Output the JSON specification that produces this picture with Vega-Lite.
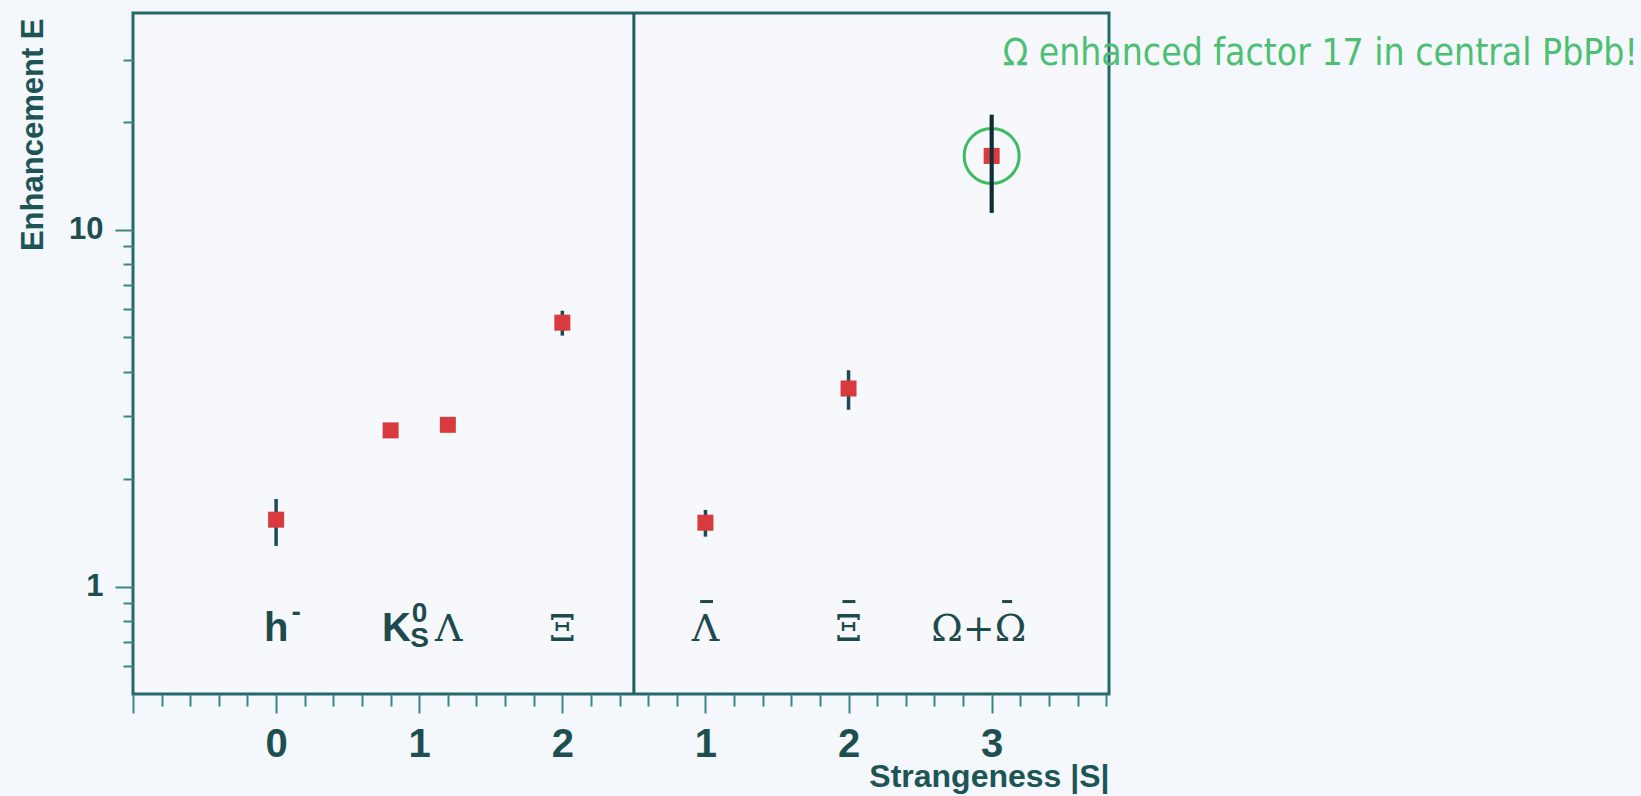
{
  "$schema": "https://vega.github.io/schema/vega-lite/v6.json",
  "width": 976,
  "height": 681,
  "autosize": {"type": "none"},
  "padding": {"left": 133, "top": 13, "right": 532, "bottom": 102},
  "background": "#f4f7fb",
  "config": {
    "view": {"stroke": "#24696a", "strokeWidth": 3, "fill": "#f6f8fc"},
    "axis": {"grid": false, "domain": false, "tickColor": "#3a8684", "tickWidth": 2, "labelColor": "#1d4f50", "titleColor": "#1d5556", "labelFont": "Liberation Sans", "titleFont": "Liberation Sans", "labelFontWeight": "bold", "titleFontWeight": "bold"}
  },
  "resolve": {"axis": {"x": "independent", "y": "independent"}},
  "datasets": {
    "points": [
      {"p": "h-", "u": 0, "e": 1.54, "lo": 1.30, "hi": 1.76},
      {"p": "K0S", "u": 0.8, "e": 2.74},
      {"p": "Lambda", "u": 1.2, "e": 2.84},
      {"p": "Xi", "u": 2, "e": 5.49, "lo": 5.05, "hi": 5.93},
      {"p": "AntiLambda", "u": 3, "e": 1.51, "lo": 1.38, "hi": 1.64},
      {"p": "AntiXi", "u": 4, "e": 3.59, "lo": 3.13, "hi": 4.04},
      {"p": "Omega", "u": 5, "e": 16.1, "lo": 11.16, "hi": 21.0}
    ],
    "boldLabels": [
      {"t": "h", "u": 0, "e": 0.706},
      {"t": "K", "u": 0.841, "e": 0.706}
    ],
    "smallLabels": [
      {"t": "-", "u": 0.14, "e": 0.80},
      {"t": "0", "u": 1.003, "e": 0.798},
      {"t": "S", "u": 1.003, "e": 0.679}
    ],
    "greekLabels": [
      {"t": "\u039b", "u": 1.206, "e": 0.706},
      {"t": "\u039e", "u": 2.0, "e": 0.706},
      {"t": "\u039b", "u": 3.0, "e": 0.706},
      {"t": "\u039e", "u": 4.0, "e": 0.706},
      {"t": "\u03a9+\u03a9", "u": 4.91, "e": 0.706}
    ],
    "antiBars": [
      {"lab": "AntiLambda", "u1": 2.963, "u2": 3.053, "e": 0.908},
      {"lab": "AntiXi", "u1": 3.958, "u2": 4.048, "e": 0.908},
      {"lab": "AntiOmega", "u1": 5.073, "u2": 5.143, "e": 0.908}
    ],
    "note": [
      {"t": "\u03a9 enhanced factor 17 in central PbPb!", "u": 5.077, "e": 29.0}
    ]
  },
  "layer": [
    {
      "data": {"values": [{"u": 2.5}]},
      "mark": {"type": "rule", "color": "#1f5f5f", "strokeWidth": 3},
      "encoding": {
        "x": {"field": "u", "type": "quantitative", "scale": {"domain": [-1, 5.82], "nice": false, "zero": false}, "axis": null}
      }
    },
    {
      "data": {"name": "points"},
      "transform": [{"filter": "datum.p == 'Omega'"}],
      "mark": {"type": "point", "shape": "circle", "filled": false, "stroke": "#3dbb63", "strokeWidth": 3, "size": 3025, "opacity": 1},
      "encoding": {
        "x": {
          "field": "u", "type": "quantitative",
          "scale": {"domain": [-1, 5.82], "nice": false, "zero": false},
          "axis": {
            "orient": "bottom",
            "values": [-0.8, -0.6, -0.4, -0.2, 0.2, 0.4, 0.6, 0.8, 1.2, 1.4, 1.6, 1.8, 2.2, 2.4, 2.6, 2.8, 3.2, 3.4, 3.6, 3.8, 4.2, 4.4, 4.6, 4.8, 5.2, 5.4, 5.6, 5.8],
            "labels": false,
            "tickSize": 12,
            "title": null
          }
        },
        "y": {
          "field": "e", "type": "quantitative",
          "scale": {"type": "log", "domain": [0.5, 40.5], "nice": false},
          "axis": {
            "orient": "left",
            "values": [0.6, 0.7, 0.8, 0.9, 2, 3, 4, 5, 6, 7, 8, 9, 20, 30],
            "labels": false,
            "tickSize": 10,
            "title": null
          }
        }
      }
    },
    {
      "data": {"name": "points"},
      "transform": [{"filter": "isValid(datum.lo)"}],
      "mark": {"type": "rule", "color": "#1f4a55", "strokeWidth": 3.5},
      "encoding": {
        "x": {"field": "u", "type": "quantitative", "scale": {"domain": [-1, 5.82], "nice": false, "zero": false}, "axis": null},
        "y": {"field": "lo", "type": "quantitative", "scale": {"type": "log", "domain": [0.5, 40.5], "nice": false}, "axis": null},
        "y2": {"field": "hi"}
      }
    },
    {
      "data": {"name": "points"},
      "mark": {"type": "square", "filled": true, "color": "#d83a3e", "size": 256, "opacity": 1},
      "encoding": {
        "x": {
          "field": "u", "type": "quantitative",
          "scale": {"domain": [-1, 5.82], "nice": false, "zero": false},
          "axis": {
            "orient": "bottom",
            "values": [-1, 0, 1, 2, 3, 4, 5],
            "labelExpr": "datum.value < -0.5 ? '' : (datum.value < 2.5 ? format(datum.value, 'd') : format(datum.value - 2, 'd'))",
            "tickSize": 19,
            "labelFontSize": 40,
            "labelPadding": 11,
            "labelOverlap": false,
            "labelFlush": false,
            "title": "Strangeness |S|",
            "titleFontSize": 32,
            "titleAnchor": "end",
            "titleAlign": "right",
            "titleBaseline": "alphabetic",
            "titleX": 976,
            "titleY": 92
          }
        },
        "y": {
          "field": "e", "type": "quantitative",
          "scale": {"type": "log", "domain": [0.5, 40.5], "nice": false},
          "axis": {
            "orient": "left",
            "values": [1, 10],
            "format": "~g",
            "tickSize": 18,
            "labelFontSize": 31,
            "labelPadding": 12,
            "labelBaseline": "middle",
            "labelOverlap": false,
            "labelFlush": false,
            "title": "Enhancement E",
            "titleFontSize": 31,
            "titleAngle": 270,
            "titleAlign": "right",
            "titleBaseline": "middle",
            "titleX": -100,
            "titleY": 5
          }
        }
      }
    },
    {
      "data": {"name": "points"},
      "transform": [{"filter": "datum.p == 'Omega'"}],
      "mark": {"type": "rule", "color": "#142c38", "strokeWidth": 4},
      "encoding": {
        "x": {"field": "u", "type": "quantitative", "scale": {"domain": [-1, 5.82], "nice": false, "zero": false}, "axis": null},
        "y": {"field": "lo", "type": "quantitative", "scale": {"type": "log", "domain": [0.5, 40.5], "nice": false}, "axis": null},
        "y2": {"field": "hi"}
      }
    },
    {
      "data": {"name": "boldLabels"},
      "mark": {"type": "text", "font": "Liberation Sans", "fontWeight": "bold", "fontSize": 40, "baseline": "alphabetic", "align": "center", "color": "#1d4a4c"},
      "encoding": {
        "x": {"field": "u", "type": "quantitative", "scale": {"domain": [-1, 5.82], "nice": false, "zero": false}, "axis": null},
        "y": {"field": "e", "type": "quantitative", "scale": {"type": "log", "domain": [0.5, 40.5], "nice": false}, "axis": null},
        "text": {"field": "t"}
      }
    },
    {
      "data": {"name": "smallLabels"},
      "mark": {"type": "text", "font": "Liberation Sans", "fontWeight": "bold", "fontSize": 28, "baseline": "alphabetic", "align": "center", "color": "#1d4a4c"},
      "encoding": {
        "x": {"field": "u", "type": "quantitative", "scale": {"domain": [-1, 5.82], "nice": false, "zero": false}, "axis": null},
        "y": {"field": "e", "type": "quantitative", "scale": {"type": "log", "domain": [0.5, 40.5], "nice": false}, "axis": null},
        "text": {"field": "t"}
      }
    },
    {
      "data": {"name": "greekLabels"},
      "mark": {"type": "text", "font": "DejaVu Serif", "fontSize": 38, "baseline": "alphabetic", "align": "center", "color": "#1d4a4c"},
      "encoding": {
        "x": {"field": "u", "type": "quantitative", "scale": {"domain": [-1, 5.82], "nice": false, "zero": false}, "axis": null},
        "y": {"field": "e", "type": "quantitative", "scale": {"type": "log", "domain": [0.5, 40.5], "nice": false}, "axis": null},
        "text": {"field": "t"}
      }
    },
    {
      "data": {"name": "antiBars"},
      "mark": {"type": "rule", "color": "#1d4a4c", "strokeWidth": 3},
      "encoding": {
        "x": {"field": "u1", "type": "quantitative", "scale": {"domain": [-1, 5.82], "nice": false, "zero": false}, "axis": null},
        "x2": {"field": "u2"},
        "y": {"field": "e", "type": "quantitative", "scale": {"type": "log", "domain": [0.5, 40.5], "nice": false}, "axis": null}
      }
    },
    {
      "data": {"name": "note"},
      "mark": {"type": "text", "font": "DejaVu Sans Condensed, DejaVu Sans, sans-serif", "fontSize": 37, "baseline": "alphabetic", "align": "left", "color": "#4cbf72"},
      "encoding": {
        "x": {"field": "u", "type": "quantitative", "scale": {"domain": [-1, 5.82], "nice": false, "zero": false}, "axis": null},
        "y": {"field": "e", "type": "quantitative", "scale": {"type": "log", "domain": [0.5, 40.5], "nice": false}, "axis": null},
        "text": {"field": "t"}
      }
    }
  ]
}
